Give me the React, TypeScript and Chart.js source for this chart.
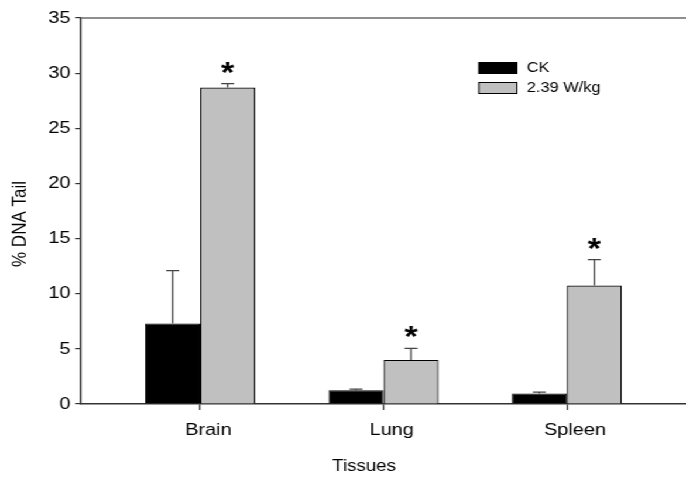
import React, { useEffect, useRef } from "react";
import { Chart, registerables } from "chart.js";

Chart.register(...registerables);

const categories = ["Brain", "Lung", "Spleen"];
const categoryX = [1, 2, 3];
const seriesNames = ["CK", "2.39 W/kg"];
const ckValues = [7.3, 1.25, 0.95];
const ckErrors = [4.8, 0.1, 0.12];
const expValues = [28.7, 4.0, 10.75];
const expErrors = [0.35, 1.05, 2.35];
const expSignificant = [true, true, true];
const yTicksMin = 0;
const yTicksMax = 35;
const yTickStep = 5;
const xTitle = "Tissues";
const yTitle = "% DNA Tail";

const FONT = 'Arial, "Liberation Sans", Helvetica, sans-serif';
const STRETCH = 686 / 586;

const overlayPlugin = {
  id: "overlay",
  afterDatasetsDraw(chart: any) {
    const ctx = chart.ctx;
    const yScale = chart.scales.y;
    const errs = [ckErrors, expErrors];
    const vals = [ckValues, expValues];
    ctx.save();
    chart.data.datasets.forEach((ds: any, i: number) => {
      const meta = chart.getDatasetMeta(i);
      meta.data.forEach((el: any, j: number) => {
        const top = yScale.getPixelForValue(vals[i][j] + errs[i][j]);
        const base = yScale.getPixelForValue(vals[i][j]);
        ctx.strokeStyle = "#444";
        ctx.lineWidth = 1.3;
        ctx.beginPath();
        ctx.moveTo(el.x, base);
        ctx.lineTo(el.x, top);
        ctx.moveTo(el.x - 5.5, top);
        ctx.lineTo(el.x + 5.5, top);
        ctx.stroke();
        if (i === 1 && expSignificant[j]) {
          ctx.font = `bold 29px ${FONT}`;
          ctx.fillStyle = "#000";
          ctx.textAlign = "center";
          ctx.textBaseline = "alphabetic";
          const m = ctx.measureText("*");
          const asc = m.actualBoundingBoxAscent;
          const desc = m.actualBoundingBoxDescent;
          const cy = top - 16;
          ctx.fillText("*", el.x, cy + (asc - desc) / 2);
        }
      });
    });
    ctx.restore();
  },
  afterDraw(chart: any) {
    const ctx = chart.ctx;
    const area = chart.chartArea;
    ctx.save();
    ctx.strokeStyle = "#6a6a6a";
    ctx.lineWidth = 1.5;
    ctx.beginPath();
    ctx.moveTo(area.left, area.top);
    ctx.lineTo(chart.width, area.top);
    ctx.stroke();
    const colors = ["#000000", "#c0c0c0"];
    const boxX = 409;
    const rows = [68, 88];
    ctx.font = `14px ${FONT}`;
    ctx.textAlign = "left";
    ctx.textBaseline = "middle";
    seriesNames.forEach((name, i) => {
      const cy = rows[i];
      ctx.fillStyle = colors[i];
      ctx.fillRect(boxX, cy - 5.5, 32.5, 11);
      ctx.strokeStyle = "#000";
      ctx.lineWidth = 1;
      ctx.strokeRect(boxX, cy - 5.5, 32.5, 11);
      ctx.fillStyle = "#000";
      ctx.fillText(name, 450, cy);
    });
    ctx.font = `16px ${FONT}`;
    ctx.textAlign = "center";
    ctx.textBaseline = "middle";
    ctx.fillText(xTitle, 311, 467);
    ctx.font = `17px ${FONT}`;
    ctx.translate(17, 224);
    ctx.rotate(-Math.PI / 2);
    ctx.fillText(yTitle, 0, 0);
    ctx.restore();
  },
};

export default function App() {
  const canvasRef = useRef<HTMLCanvasElement | null>(null);

  useEffect(() => {
    document.body.style.margin = "0";
    const canvas = canvasRef.current;
    if (!canvas) return;
    Chart.defaults.font.family = FONT;
    const chart = new Chart(canvas, {
      type: "bar",
      data: {
        datasets: [
          {
            label: seriesNames[0],
            data: categoryX.map((x, i) => ({ x, y: ckValues[i] })),
            backgroundColor: "#000000",
            borderColor: "#000000",
            borderWidth: 1,
          },
          {
            label: seriesNames[1],
            data: categoryX.map((x, i) => ({ x, y: expValues[i] })),
            backgroundColor: "#c0c0c0",
            borderColor: "#000000",
            borderWidth: 1.2,
          },
        ],
      },
      options: {
        animation: false,
        responsive: true,
        maintainAspectRatio: false,
        layout: { padding: { top: 18, right: 0, left: 0, bottom: 0 } },
        datasets: { bar: { barPercentage: 1, categoryPercentage: 0.6 } },
        plugins: {
          legend: { display: false },
          tooltip: { enabled: false },
        },
        scales: {
          x: {
            type: "linear",
            min: 0.35,
            max: 3.65,
            offset: false,
            afterBuildTicks: (scale: any) => {
              scale.ticks = categoryX.map((v) => ({ value: v }));
            },
            afterFit: (scale: any) => {
              scale.height = 73;
            },
            ticks: {
              callback: (v: any) => categories[categoryX.indexOf(Number(v))] ?? "",
              font: { size: 17, family: FONT },
              color: "#000",
              padding: 10,
              labelOffset: 7,
              maxRotation: 0,
              autoSkip: false,
            },
            grid: {
              offset: false,
              drawOnChartArea: false,
              drawTicks: true,
              tickLength: 6,
              color: "#333",
              lineWidth: 1.2,
            },
            border: { display: true, color: "#333", width: 1.5 },
          },
          y: {
            min: yTicksMin,
            max: yTicksMax,
            afterFit: (scale: any) => {
              scale.width = 69.2;
            },
            ticks: {
              stepSize: yTickStep,
              font: { size: 17, family: FONT },
              color: "#000",
              padding: 4,
            },
            grid: {
              drawOnChartArea: false,
              drawTicks: true,
              tickLength: 5,
              color: "#333",
              lineWidth: 1.2,
            },
            border: { display: true, color: "#333", width: 1.5 },
          },
        },
      },
      plugins: [overlayPlugin],
    } as any);
    return () => chart.destroy();
  }, []);

  return (
    <div
      style={{
        position: "fixed",
        left: 0,
        top: 0,
        width: 586,
        height: 477,
        transform: `scaleX(${STRETCH})`,
        transformOrigin: "0 0",
        background: "#fff",
      }}
    >
      <canvas ref={canvasRef} />
    </div>
  );
}
